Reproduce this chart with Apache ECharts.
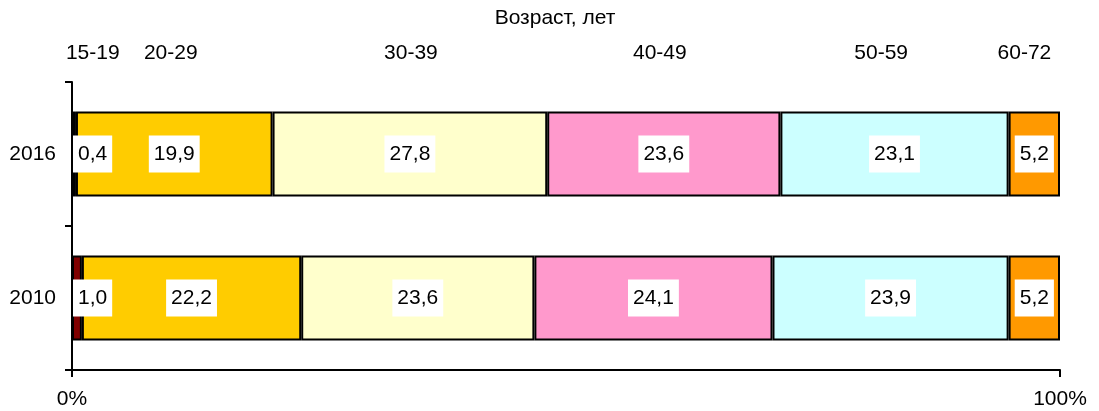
<!DOCTYPE html>
<html>
<head>
<meta charset="utf-8">
<script src="https://cdn.jsdelivr.net/npm/echarts@6/dist/echarts.min.js"></script>
<style>
html,body{margin:0;padding:0;background:#fff;}
#chart{width:1099px;height:411px;}
</style>
</head>
<body>
<div id="chart"></div>
<script>
var years = ['2010', '2016'];
var groups = ['15-19', '20-29', '30-39', '40-49', '50-59', '60-72'];
var v1519 = [1.0, 0.4];
var v2029 = [22.2, 19.9];
var v3039 = [23.6, 27.8];
var v4049 = [24.1, 23.6];
var v5059 = [23.9, 23.1];
var v6072 = [5.2, 5.2];
var groupLabelPos = [2.1, 10.0, 34.3, 59.5, 81.9, 96.4];
var xTickLabels = ['0%', '100%'];
var titleText = 'Возраст, лет';

var seriesValues = [v1519, v2029, v3039, v4049, v5059, v6072];
var colors = ['#800000', '#FFCC00', '#FFFFCC', '#FF99CC', '#CCFFFF', '#FF9900'];
var FONT = 'Liberation Sans, Arial, sans-serif';
var FS = 21;

function fmt(p) { return p.value.toFixed(1).replace('.', ','); }

var series = seriesValues.map(function (vals, i) {
  return {
    name: groups[i],
    type: 'bar',
    stack: 'total',
    xAxisIndex: 0,
    yAxisIndex: 0,
    barWidth: '59%',
    data: vals,
    itemStyle: { color: colors[i], borderColor: '#000', borderWidth: 2 },
    label: {
      show: true,
      position: i === 0 ? 'insideLeft' : 'inside',
      distance: i === 0 ? 1 : 5,
      formatter: fmt,
      color: '#000',
      fontFamily: FONT,
      fontSize: FS,
      backgroundColor: '#fff',
      padding: [8, 5, 8, 5]
    },
    z: 2
  };
});

series.push({
  type: 'scatter',
  xAxisIndex: 1,
  yAxisIndex: 1,
  symbolSize: 1,
  clip: false,
  itemStyle: { color: '#fff', opacity: 1 },
  data: groupLabelPos.map(function (p, i) { return { value: [p, 0.5], name: groups[i] }; }),
  label: {
    show: true,
    position: 'inside',
    formatter: function (p) { return p.name; },
    color: '#000',
    textBorderWidth: 0,
    fontFamily: FONT,
    fontSize: FS
  },
  silent: true
});

var chart = echarts.init(document.getElementById('chart'), null, { renderer: 'canvas' });
chart.setOption({
  animation: false,
  backgroundColor: '#fff',
  title: {
    text: titleText,
    left: 550,
    textAlign: 'center',
    top: 3,
    textStyle: { fontFamily: FONT, fontSize: FS, fontWeight: 'normal', color: '#000' }
  },
  grid: [
    { left: 72, right: 39, top: 82, bottom: 41, containLabel: false },
    { left: 72, right: 39, top: 40, height: 26, containLabel: false }
  ],
  xAxis: [
    {
      type: 'value', gridIndex: 0, min: 0, max: 100, interval: 100,
      axisLine: { show: true, lineStyle: { color: '#000', width: 2 } },
      axisTick: { show: true, length: 7, lineStyle: { color: '#000', width: 2 } },
      splitLine: { show: false },
      axisLabel: {
        color: '#000', fontFamily: FONT, fontSize: FS, margin: 19,
        formatter: function (v) { return v === 0 ? xTickLabels[0] : xTickLabels[1]; }
      }
    },
    { type: 'value', gridIndex: 1, min: 0, max: 100, show: false }
  ],
  yAxis: [
    {
      type: 'category', gridIndex: 0, data: years,
      axisLine: { show: true, lineStyle: { color: '#000', width: 2 } },
      axisTick: { show: true, length: 7, lineStyle: { color: '#000', width: 2 } },
      axisLabel: { color: '#000', fontFamily: FONT, fontSize: FS, margin: 16 },
      splitLine: { show: false }
    },
    { type: 'value', gridIndex: 1, min: 0, max: 1, show: false }
  ],
  series: series
});
</script>
</body>
</html>
